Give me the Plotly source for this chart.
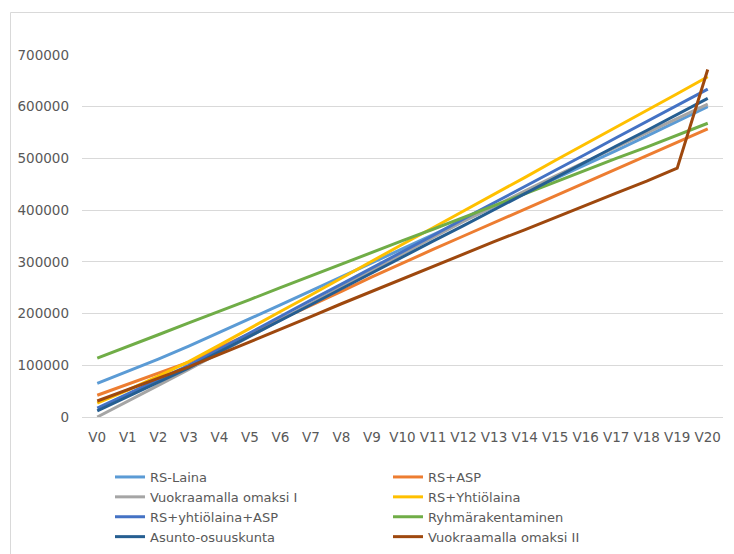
import plotly.graph_objects as go

# Years on the category axis
years = [f"V{i}" for i in range(21)]

# Cumulative cost per option (EUR)
rs_laina = [65000, 88000, 112000, 137000, 163000, 190000, 217000, 244000, 271000, 298000,
            325000, 353000, 380000, 407000, 434000, 461000, 488000, 515000, 543000, 571000, 600000]
rs_asp = [42000, 63000, 85000, 106000, 134000, 161000, 189000, 216000, 243000, 271000,
          298000, 324000, 350000, 376000, 402000, 428000, 453000, 479000, 505000, 531000, 557000]
vuokra_1 = [0, 30000, 61000, 92000, 124000, 156000, 188000, 220000, 252000, 284000,
            316000, 347000, 378000, 408000, 437000, 466000, 494000, 522000, 550000, 578000, 605000]
rs_yhtiolaina = [27000, 52000, 79000, 107000, 139000, 172000, 204000, 236000, 269000, 301000,
                 334000, 366000, 398000, 431000, 463000, 496000, 528000, 560000, 593000, 625000, 658000]
rs_yhtio_asp = [17000, 45000, 72000, 100000, 131000, 163000, 194000, 226000, 257000, 288000,
                320000, 351000, 383000, 414000, 445000, 477000, 508000, 540000, 571000, 603000, 634000]
ryhmarakentaminen = [114000, 136000, 159000, 182000, 204000, 227000, 250000, 273000, 295000, 318000,
                     341000, 363000, 386000, 409000, 432000, 454000, 477000, 500000, 522000, 545000, 568000]
asunto_osuuskunta = [12000, 40000, 67000, 95000, 126000, 156000, 187000, 217000, 248000, 279000,
                     309000, 340000, 370000, 401000, 432000, 462000, 493000, 524000, 554000, 585000, 616000]
vuokra_2 = [31000, 53000, 75000, 97000, 121000, 145000, 170000, 194000, 219000, 243000,
            268000, 292000, 316000, 339000, 362000, 386000, 409000, 433000, 456000, 481000, 672000]

series_names = ["RS-Laina", "RS+ASP", "Vuokraamalla omaksi I", "RS+Yhtiölaina",
                "RS+yhtiölaina+ASP", "Ryhmärakentaminen", "Asunto-osuuskunta",
                "Vuokraamalla omaksi II"]
series_values = [rs_laina, rs_asp, vuokra_1, rs_yhtiolaina, rs_yhtio_asp,
                 ryhmarakentaminen, asunto_osuuskunta, vuokra_2]
series_colors = ["#5B9BD5", "#ED7D31", "#A5A5A5", "#FFC000",
                 "#4472C4", "#70AD47", "#255E91", "#9E480E"]

y_ticks = [0, 100000, 200000, 300000, 400000, 500000, 600000, 700000]

W, H = 734, 554
ML, MR, MT, MB = 82, 11, 55, 137
PW, PH = W - ML - MR, H - MT - MB

TEXT = "#595959"
GRID = "#D9D9D9"
FONT = "DejaVu Sans"

fig = go.Figure()
for name, vals, col in zip(series_names, series_values, series_colors):
    fig.add_trace(go.Scatter(
        x=years, y=vals, name=name, mode="lines",
        line=dict(color=col, width=3),
    ))


def px_x(p):
    return (p - ML) / PW


def px_y(p):
    return (H - MB - p) / PH


# outer chart frame (left and top edges visible)
fig.add_shape(type="rect", xref="paper", yref="paper",
              x0=px_x(10.5), x1=px_x(W + 10), y0=px_y(H + 10), y1=px_y(12.5),
              line=dict(color=GRID, width=1), fillcolor="rgba(0,0,0,0)", layer="below")

fig.update_layout(
    width=W, height=H,
    margin=dict(l=ML, r=MR, t=MT, b=MB, autoexpand=False),
    paper_bgcolor="white", plot_bgcolor="white",
    font=dict(family=FONT, color=TEXT, size=13),
    showlegend=True,
    legend=dict(
        orientation="h", x=px_x(110), xanchor="left", y=px_y(462), yanchor="top",
        entrywidth=233, entrywidthmode="pixels", traceorder="normal",
        font=dict(family=FONT, size=13, color=TEXT),
        itemclick=False, bgcolor="rgba(0,0,0,0)",
    ),
    xaxis=dict(
        type="category", range=[-0.5, 20.5], showgrid=False,
        showline=True, linecolor=GRID, linewidth=1, ticks="",
        tickfont=dict(family=FONT, size=13.5, color=TEXT),
        ticklabelstandoff=8, fixedrange=True,
    ),
    yaxis=dict(
        range=[0, 700000], tickvals=y_ticks, ticktext=[str(v) for v in y_ticks],
        showgrid=True, gridcolor=GRID, gridwidth=1, zeroline=False,
        showline=False, ticks="",
        tickfont=dict(family=FONT, size=13.5, color=TEXT),
        ticklabelstandoff=12, fixedrange=True,
    ),
)

fig.write_html("out.html")
